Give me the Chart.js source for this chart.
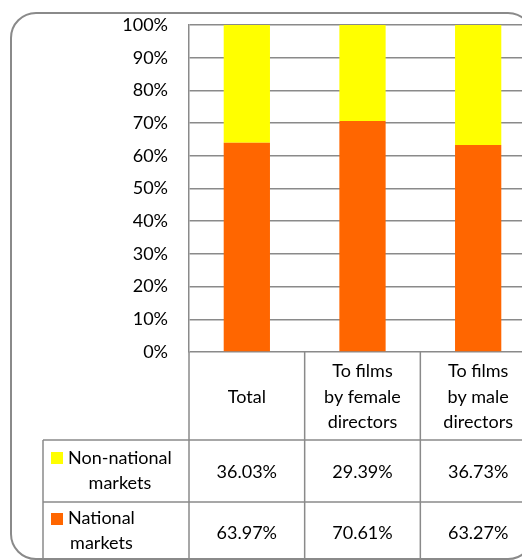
<!DOCTYPE html>
<html>
<head>
<meta charset="utf-8">
<script src="https://cdn.jsdelivr.net/npm/chart.js@4"></script>
<style>
html,body{margin:0;padding:0;overflow:hidden;background:#fff;width:522px;height:560px;}
#wrap{width:560px;height:560px;}
</style>
</head>
<body>
<div id="wrap"><canvas id="c" width="560" height="560"></canvas></div>
<script>
const categories = [["Total"], ["To films", "by female", "directors"], ["To films", "by male", "directors"]];
const nonNational = [36.03, 29.39, 36.73];
const national = [63.97, 70.61, 63.27];
const seriesLabels = [["Non-national", "markets"], ["National", "markets"]];
const yTicks = [0, 10, 20, 30, 40, 50, 60, 70, 80, 90, 100];

const FONT = "Lato, 'DejaVu Sans', sans-serif";
const GRID = '#8a8a8a';
const COLORS = {national: '#FF6600', non: '#FFFF00'};

const tablePlugin = {
  id: 'tablePlugin',
  beforeDraw(chart) {
    const ctx = chart.ctx;
    ctx.save();
    ctx.fillStyle = '#fff';
    ctx.fillRect(0, 0, chart.width, chart.height);
    ctx.strokeStyle = '#8a8a8a';
    ctx.lineWidth = 2;
    ctx.beginPath();
    ctx.roundRect(11, 13, 522, 546, 25);
    ctx.stroke();
    ctx.restore();
  },
  afterDraw(chart) {
    const ctx = chart.ctx;
    const xs = chart.scales.x;
    const ca = chart.chartArea;
    const n = categories.length;
    const bw = (ca.right - ca.left) / n;
    const bounds = [];
    for (let i = 0; i <= n; i++) bounds.push(ca.left + i * bw);
    const headerTop = ca.bottom;
    const row1Top = 440, row2Top = 502, bottom = 562;
    const labelLeft = 43;
    ctx.save();
    ctx.strokeStyle = GRID;
    ctx.lineWidth = 1.5;
    ctx.beginPath();
    ctx.moveTo(labelLeft, row1Top); ctx.lineTo(bounds[n], row1Top);
    ctx.moveTo(labelLeft, row2Top); ctx.lineTo(bounds[n], row2Top);
    ctx.moveTo(labelLeft, row1Top); ctx.lineTo(labelLeft, bottom);
    for (let i = 0; i <= n; i++) {
      ctx.moveTo(bounds[i], headerTop); ctx.lineTo(bounds[i], bottom);
    }
    ctx.stroke();

    ctx.fillStyle = '#000';
    ctx.font = '18px ' + FONT;
    ctx.textAlign = 'center';
    ctx.textBaseline = 'middle';
    const lh = 25.5;
    for (let i = 0; i < n; i++) {
      const cx = xs.getPixelForValue(i);
      const lines = categories[i];
      const mid = 397;
      const start = mid - (lines.length - 1) * lh / 2;
      lines.forEach((t, k) => ctx.fillText(t, cx, start + k * lh));
    }
    for (let i = 0; i < n; i++) {
      const cx = xs.getPixelForValue(i);
      ctx.fillText(nonNational[i].toFixed(2) + '%', cx, 472);
      ctx.fillText(national[i].toFixed(2) + '%', cx, 533);
    }
    const rows = [
      {lines: seriesLabels[0], color: COLORS.non, y0: 458, key: 452},
      {lines: seriesLabels[1], color: COLORS.national, y0: 518, key: 513}
    ];
    rows.forEach(r => {
      ctx.fillStyle = r.color;
      ctx.fillRect(51, r.key, 12, 12);
      ctx.fillStyle = '#000';
      const w = Math.max(...r.lines.map(t => ctx.measureText(t).width));
      const cx = 68 + w / 2;
      r.lines.forEach((t, k) => ctx.fillText(t, cx, r.y0 + k * lh));
    });
    ctx.restore();
  }
};

new Chart(document.getElementById('c'), {
  type: 'bar',
  data: {
    labels: categories.map(c => c.join(' ')),
    datasets: [
      {label: seriesLabels[1].join(' '), data: national, backgroundColor: COLORS.national, barPercentage: 0.4, categoryPercentage: 1},
      {label: seriesLabels[0].join(' '), data: nonNational, backgroundColor: COLORS.non, barPercentage: 0.4, categoryPercentage: 1}
    ]
  },
  options: {
    responsive: false,
    animation: false,
    devicePixelRatio: 1,
    layout: {padding: {left: 0, right: 24, top: 25, bottom: 208}},
    plugins: {legend: {display: false}, tooltip: {enabled: false}},
    scales: {
      x: {stacked: true, display: false},
      y: {
        stacked: true, min: 0, max: 100,
        afterFit(s) { s.width = 189; s.paddingTop = 0; s.paddingBottom = 0; },
        afterBuildTicks(s) { s.ticks = yTicks.map(v => ({value: v})); },
        border: {display: true, color: GRID, width: 1.5},
        grid: {color: GRID, lineWidth: 1.5, drawTicks: false},
        ticks: {
          padding: 21,
          color: '#000',
          font: {family: FONT, size: 18},
          callback: v => v + '%'
        }
      }
    }
  },
  plugins: [tablePlugin]
});
</script>
</body>
</html>
